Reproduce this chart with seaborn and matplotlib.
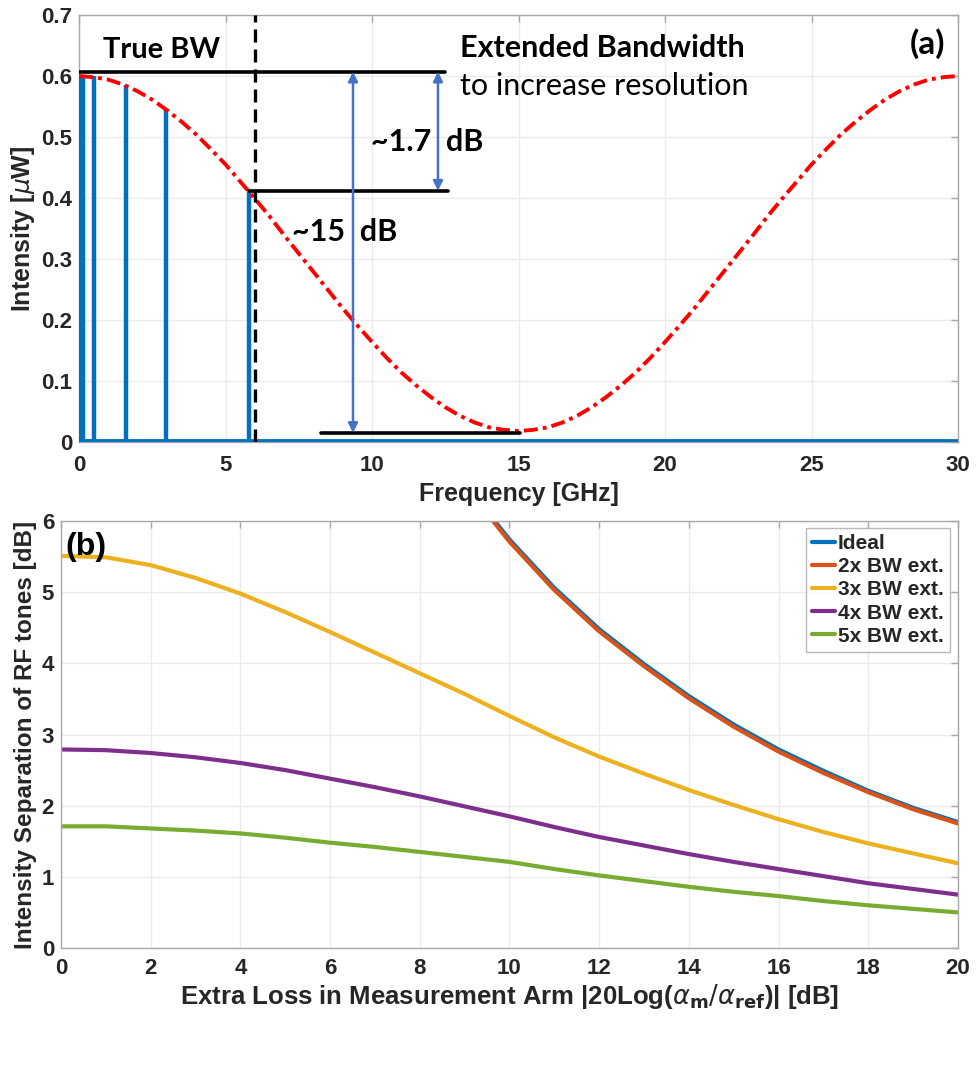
import numpy as np
import pandas as pd
import matplotlib
matplotlib.use("Agg")
import matplotlib.pyplot as plt
import seaborn as sns

# ---------------- data: panel (a) ----------------
freq_ghz = [i * 0.5 for i in range(0, 61)]
envelope_uw = [0.600, 0.598, 0.594, 0.586, 0.575, 0.561, 0.544, 0.525, 0.504, 0.480,
               0.455, 0.427, 0.399, 0.370, 0.339, 0.309, 0.279, 0.249, 0.219, 0.191,
               0.164, 0.138, 0.114, 0.093, 0.074, 0.057, 0.043, 0.032, 0.024, 0.020,
               0.018,
               0.020, 0.024, 0.032, 0.043, 0.057, 0.074, 0.093, 0.114, 0.138, 0.164,
               0.191, 0.219, 0.249, 0.279, 0.309, 0.339, 0.370, 0.399, 0.427, 0.455,
               0.480, 0.504, 0.525, 0.544, 0.561, 0.575, 0.586, 0.594, 0.598, 0.600]
tone_freqs = [0.0, 0.15, 0.52, 1.6, 2.98, 5.79]
tone_heights = [0.60, 0.60, 0.60, 0.585, 0.545, 0.41]
baseline_x = [0, 30]
baseline_y = [0, 0]
true_bw_edge = 6.0
ref_lines = [  # (y, x_start, x_end)
    (0.607, 0.0, 12.5),
    (0.412, 5.8, 12.6),
    (0.015, 8.25, 15.05),
]
arrows = [  # (x, y_top, y_bottom)
    (9.35, 0.607, 0.015),
    (12.25, 0.607, 0.412),
]

# ---------------- data: panel (b) ----------------
loss_db = list(range(0, 21))
loss_ideal = list(range(9, 21))
ideal = [6.53, 5.74, 5.06, 4.48, 3.99, 3.54, 3.14, 2.79, 2.49, 2.21, 1.97, 1.77]
bw2x = [6.50, 5.71, 5.03, 4.45, 3.96, 3.51, 3.11, 2.76, 2.46, 2.19, 1.95, 1.75]
bw3x = [5.51, 5.49, 5.38, 5.20, 4.98, 4.72, 4.44, 4.15, 3.86, 3.57, 3.26,
        2.96, 2.69, 2.45, 2.22, 2.01, 1.81, 1.63, 1.47, 1.33, 1.19]
bw4x = [2.79, 2.78, 2.74, 2.68, 2.60, 2.50, 2.38, 2.26, 2.13, 1.99, 1.85,
        1.70, 1.56, 1.44, 1.32, 1.21, 1.11, 1.01, 0.91, 0.83, 0.75]
bw5x = [1.71, 1.71, 1.68, 1.65, 1.61, 1.55, 1.48, 1.42, 1.35, 1.28, 1.21,
        1.11, 1.02, 0.94, 0.86, 0.79, 0.73, 0.66, 0.60, 0.55, 0.50]
series_names = ["Ideal", "2x BW ext.", "3x BW ext.", "4x BW ext.", "5x BW ext."]
series_colors = ["#0072BD", "#D95319", "#EDB120", "#7E2F8E", "#77AC30"]

sns.set_theme(style="white")
plt.rcParams["font.family"] = ["Liberation Sans", "DejaVu Sans"]
plt.rcParams["mathtext.fontset"] = "dejavusans"

fig = plt.figure(figsize=(9.77, 10.70), dpi=100)
axA = fig.add_axes([0.0809, 0.5869, 0.8997, 0.3991])
axB = fig.add_axes([0.0624, 0.1140, 0.9181, 0.3991])

spine_col = "#a8a8a8"
grid_col = "#ebebeb"
tick_col = "#262626"


def style_axes(ax, fs, pad):
    for s in ax.spines.values():
        s.set_color(spine_col)
        s.set_linewidth(1.0)
        s.set_visible(True)
    ax.grid(True, color=grid_col, lw=1.0)
    ax.set_axisbelow(True)
    ax.tick_params(direction="in", length=5, width=1.0, color=spine_col,
                   top=True, right=True, labelsize=fs, labelcolor=tick_col)
    ax.tick_params(axis="x", pad=pad)
    ax.tick_params(axis="y", pad=5)
    for lab in ax.get_xticklabels() + ax.get_yticklabels():
        lab.set_fontweight("bold")


# ---------------- panel (a) ----------------
axA.vlines(tone_freqs, 0, tone_heights, color="#0072BD", lw=3.2, zorder=3)
sns.lineplot(x=baseline_x, y=baseline_y, ax=axA, color="#0072BD", lw=4.2, zorder=3)
sns.lineplot(x=freq_ghz, y=envelope_uw, ax=axA, color="#FF0000", lw=2.8,
             zorder=4).lines[-1].set_dashes([3.6, 1.3, 1.0, 1.3])
axA.axvline(true_bw_edge, color="black", lw=2.4, dashes=(3.9, 2.1), zorder=4)
for y, x0, x1 in ref_lines:
    axA.plot([x0, x1], [y, y], color="black", lw=2.6, zorder=5)
for x, yt, yb in arrows:
    axA.annotate("", xy=(x, yt), xytext=(x, yb),
                 arrowprops=dict(arrowstyle="<|-|>", color="#4472C4", lw=1.8,
                                 mutation_scale=14, shrinkA=0, shrinkB=0), zorder=5)

axA.set_xlim(0, 30)
axA.set_ylim(0, 0.7)
axA.set_xticks([0, 5, 10, 15, 20, 25, 30])
axA.set_yticks([0, 0.1, 0.2, 0.3, 0.4, 0.5, 0.6, 0.7])
axA.set_yticklabels(["0", "0.1", "0.2", "0.3", "0.4", "0.5", "0.6", "0.7"])
style_axes(axA, 16, 9)
axA.set_xlabel("Frequency [GHz]", fontsize=18, fontweight="bold", color=tick_col, labelpad=5)
axA.set_ylabel(r"Intensity [$\mu$W]", fontsize=18, fontweight="bold", color=tick_col, labelpad=3)

ann = dict(family=["Lato", "DejaVu Sans"], color="black", va="baseline")
axA.text(0.82, 0.629, "True BW", fontsize=21, fontweight="bold", **ann)
axA.text(13.0, 0.631, "Extended Bandwidth", fontsize=22, fontweight="bold", **ann)
axA.text(13.0, 0.569, "to increase resolution", fontsize=22, **ann)
axA.text(29.56, 0.636, "(a)", fontsize=24, fontweight="bold", ha="right", **ann)
axA.text(9.96, 0.4775, "~1.7  dB", fontsize=22, fontweight="bold", **ann)
axA.text(7.28, 0.330, "~15  dB", fontsize=22, fontweight="bold", **ann)

# ---------------- panel (b) ----------------
frames = [
    pd.DataFrame({"loss": loss_ideal, "sep": ideal, "series": series_names[0]}),
    pd.DataFrame({"loss": loss_ideal, "sep": bw2x, "series": series_names[1]}),
    pd.DataFrame({"loss": loss_db, "sep": bw3x, "series": series_names[2]}),
    pd.DataFrame({"loss": loss_db, "sep": bw4x, "series": series_names[3]}),
    pd.DataFrame({"loss": loss_db, "sep": bw5x, "series": series_names[4]}),
]
dfB = pd.concat(frames, ignore_index=True)
sns.lineplot(data=dfB, x="loss", y="sep", hue="series", hue_order=series_names,
             palette=series_colors, lw=3.0, ax=axB, estimator=None, sort=True)
# the blue "Ideal" line sits just behind the 2x line
axB.lines[0].set_zorder(1.9)
axB.set_xlim(0, 20)
axB.set_ylim(0, 6)
axB.set_xticks(list(range(0, 21, 2)))
axB.set_yticks(list(range(0, 7)))
style_axes(axB, 16, 7)
axB.set_xlabel(r"Extra Loss in Measurement Arm |20Log($\alpha_{\mathbf{m}}/\alpha_{\mathbf{ref}}$)| [dB]",
               fontsize=18.5, fontweight="bold", color=tick_col, labelpad=2)
axB.set_ylabel("Intensity Separation of RF tones [dB]", fontsize=17.5, fontweight="bold",
               color=tick_col, labelpad=3)
axB.text(0.09, 5.63, "(b)", fontsize=23, fontweight="bold", va="center", color="black")

leg = axB.legend(loc="upper right", bbox_to_anchor=(0.991, 0.984),
                 prop=dict(weight="bold", size=15), frameon=True, fancybox=False,
                 handlelength=1.1, handletextpad=0.15, labelspacing=0.2,
                 borderpad=0.3, borderaxespad=0.0)
leg.get_frame().set_edgecolor(spine_col)
leg.get_frame().set_linewidth(1.0)
for h in leg.get_lines():
    h.set_linewidth(3.0)

fig.savefig("out.png", dpi=100, facecolor="white")
